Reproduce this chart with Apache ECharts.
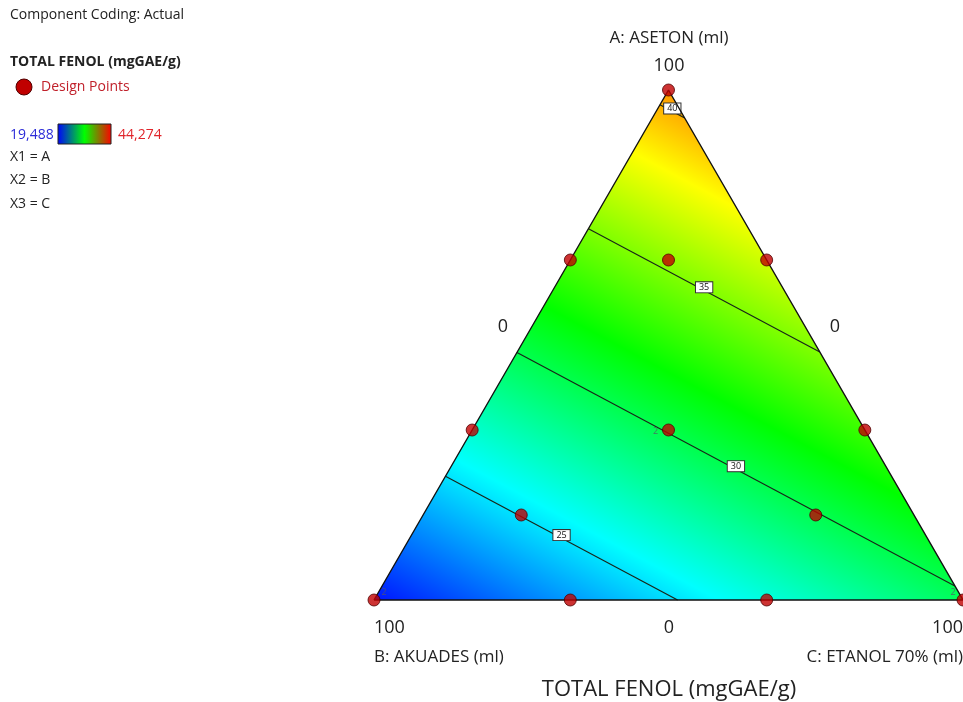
<!DOCTYPE html>
<html>
<head>
<meta charset="utf-8">
<script src="https://cdn.jsdelivr.net/npm/echarts@6/dist/echarts.min.js"></script>
<style>
  html, body { margin: 0; padding: 0; background: #fff; }
  #chart { width: 963px; height: 702px; }
</style>
</head>
<body>
<div id="chart"></div>
<script>
// Mixture design points, in percent of the blend
// A = ASETON, B = AKUADES, C = ETANOL 70%
const pointA = [100, 0, 0, 66.67, 33.33, 66.67, 33.33, 0, 0, 33.33, 66.67, 16.67, 16.67];
const pointB = [0, 100, 0, 33.33, 66.67, 0, 0, 66.67, 33.33, 33.33, 16.67, 66.67, 16.67];
const pointC = [0, 0, 100, 0, 0, 33.33, 66.67, 33.33, 66.67, 33.33, 16.67, 16.67, 66.67];
const pointReps = [1, 2, 2, 1, 1, 1, 1, 1, 1, 2, 1, 1, 1];

// Linear mixture model for TOTAL FENOL (coefficients for A, B, C as fractions)
const modelCoef = [40.6, 20.0, 29.7];
const contourLevels = [25, 30, 35, 40];
const colorRange = [19.488, 44.274];
const surfaceColors = ['#0000ff', '#00ffff', '#00ff00', '#ffff00', '#ff0000'];

const FONT = "'Open Sans', 'Noto Sans', sans-serif";
const TEXT = '#222';

// ternary composition (percent) -> cartesian data coords (x in 0..1, y in 0..1)
function toXY(a, b, c) {
  const s = a + b + c;
  return [(c + a / 2) / s, a / s];
}
function model(a, b, c) {
  const s = a + b + c;
  return (modelCoef[0] * a + modelCoef[1] * b + modelCoef[2] * c) / s;
}

const vertA = [100, 0, 0], vertB = [0, 100, 0], vertC = [0, 0, 100];
const edges = [[vertA, vertB], [vertB, vertC], [vertA, vertC]];

// intersection of a contour level with the triangle border (two end points)
function contourEnds(level) {
  const pts = [];
  edges.forEach(([p, q]) => {
    const fp = model(...p), fq = model(...q);
    if ((level - fp) * (level - fq) <= 0 && fp !== fq) {
      const t = (level - fp) / (fq - fp);
      pts.push([0, 1, 2].map(i => p[i] + t * (q[i] - p[i])));
    }
  });
  return pts.slice(0, 2);
}

const chart = echarts.init(document.getElementById('chart'), null, { renderer: 'canvas' });

// filled response surface: linear model -> a single linear gradient across the simplex
function renderSurface(params, api) {
  const pA = api.coord(toXY(...vertA));
  const pB = api.coord(toXY(...vertB));
  const pC = api.coord(toXY(...vertC));
  const vA = model(...vertA), vB = model(...vertB), vC = model(...vertC);
  const d1 = [pA[0] - pB[0], pA[1] - pB[1]];
  const d2 = [pC[0] - pB[0], pC[1] - pB[1]];
  const r1 = vA - vB, r2 = vC - vB;
  const det = d1[0] * d2[1] - d1[1] * d2[0];
  const gx = (r1 * d2[1] - r2 * d1[1]) / det;
  const gy = (d1[0] * r2 - d2[0] * r1) / det;
  const g2 = gx * gx + gy * gy;
  const s0 = (colorRange[0] - vB) / g2, s1 = (colorRange[1] - vB) / g2;
  const stops = surfaceColors.map((c, i) => ({ offset: i / (surfaceColors.length - 1), color: c }));
  return {
    type: 'polygon',
    shape: { points: [pA, pB, pC] },
    style: {
      fill: {
        type: 'linear', global: true,
        x: pB[0] + s0 * gx, y: pB[1] + s0 * gy,
        x2: pB[0] + s1 * gx, y2: pB[1] + s1 * gy,
        colorStops: stops
      },
      stroke: null
    }
  };
}

function renderContour(params, api) {
  const level = api.value(0);
  const ends = contourEnds(level);
  if (ends.length < 2) return null;
  const p = api.coord(toXY(...ends[0]));
  const q = api.coord(toXY(...ends[1]));
  const mx = (p[0] + q[0]) / 2, my = (p[1] + q[1]) / 2;
  return {
    type: 'group',
    children: [
      { type: 'line', shape: { x1: p[0], y1: p[1], x2: q[0], y2: q[1] },
        style: { stroke: '#182418', lineWidth: 1.1 } },
      { type: 'text', x: mx, y: my - 3, z2: 10,
        style: { text: String(level), fontSize: 9, fontFamily: FONT, fill: '#111',
                 align: 'center', verticalAlign: 'middle',
                 backgroundColor: '#ffffff', borderColor: '#333', borderWidth: 1,
                 padding: [1, 3, 0, 3] } }
    ]
  };
}

const outline = [vertB, vertC, vertA, vertB].map(v => toXY(...v));

const designData = pointA.map((a, i) => {
  const b = pointB[i], c = pointC[i];
  const item = { value: toXY(a, b, c) };
  if (pointReps[i] > 1) {
    const isVertex = Math.max(a, b, c) >= 99.9;
    let offset;
    if (isVertex) offset = [item.value[0] < 0.5 ? 10 : -10, -8];
    else offset = [-13, 1];
    item.label = { show: true, formatter: String(pointReps[i]), position: 'inside',
                   offset: offset, fontSize: 9, color: '#556', fontFamily: FONT };
  }
  return item;
});

function txt(text, x, y, size, opts) {
  return Object.assign({
    type: 'text', x: x, y: y,
    style: Object.assign({ text: text, fontSize: size, fontFamily: FONT, fill: TEXT,
                           align: 'left', verticalAlign: 'middle' }, opts && opts.style)
  }, opts && opts.el);
}

const option = {
  backgroundColor: '#ffffff',
  animation: false,
  grid: { left: 374, top: 90, width: 589, height: 510 },
  xAxis: { type: 'value', min: 0, max: 1, show: false },
  yAxis: { type: 'value', min: 0, max: 1, show: false },
  series: [
    { type: 'custom', name: 'surface', data: [[0]], renderItem: renderSurface, z: 1, silent: true, clip: false },
    { type: 'custom', name: 'contours', data: contourLevels.map(l => [l]), renderItem: renderContour, z: 2, silent: true, clip: false },
    { type: 'line', name: 'outline', data: outline, symbol: 'none', clip: false, z: 3,
      lineStyle: { color: '#111', width: 1.4 }, silent: true },
    { type: 'scatter', name: 'Design Points', data: designData, symbol: 'circle', symbolSize: 12,
      clip: false, z: 5,
      itemStyle: { color: '#c00000', borderColor: '#500000', borderWidth: 1 } }
  ],
  graphic: [
    txt('Component Coding: Actual', 10, 15, 14),
    txt('TOTAL FENOL (mgGAE/g)', 10, 62, 14, { style: { fontWeight: 'bold' } }),
    { type: 'circle', shape: { cx: 24, cy: 87, r: 8 },
      style: { fill: '#c00000', stroke: '#500000', lineWidth: 1 } },
    txt('Design Points', 41, 87, 14, { style: { fill: '#c0202a' } }),
    txt('19,488', 10, 135, 14, { style: { fill: '#2b2bd8' } }),
    { type: 'rect', shape: { x: 58, y: 124, width: 53, height: 20 },
      style: { stroke: '#222', lineWidth: 1,
               fill: { type: 'linear', x: 0, y: 0, x2: 1, y2: 0,
                       colorStops: [{ offset: 0, color: '#0000ff' }, { offset: 0.5, color: '#00ff00' }, { offset: 1, color: '#ff0000' }] } } },
    txt('44,274', 118, 135, 14, { style: { fill: '#e0242a' } }),
    txt('X1 = A', 10, 157, 14),
    txt('X2 = B', 10, 180, 14),
    txt('X3 = C', 10, 204, 14),
    txt('A: ASETON (ml)', 669, 38, 17, { style: { align: 'center' } }),
    txt('100', 669, 66, 18, { style: { align: 'center' } }),
    txt('0', 503, 327, 18, { style: { align: 'center' } }),
    txt('0', 835, 327, 18, { style: { align: 'center' } }),
    txt('100', 374, 628, 18),
    txt('0', 669, 628, 18, { style: { align: 'center' } }),
    txt('100', 963, 628, 18, { style: { align: 'right' } }),
    txt('B: AKUADES (ml)', 374, 657, 17),
    txt('C: ETANOL 70% (ml)', 963, 657, 17, { style: { align: 'right' } }),
    txt('TOTAL FENOL (mgGAE/g)', 669, 690, 22, { style: { align: 'center' } })
  ]
};

chart.setOption(option);
</script>
</body>
</html>
